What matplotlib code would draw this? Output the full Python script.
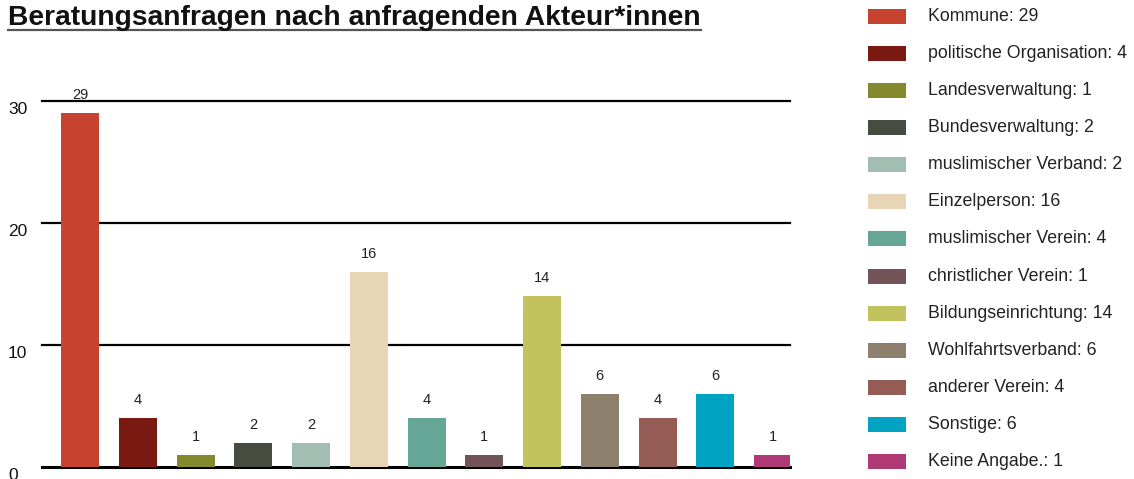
import matplotlib
matplotlib.use("Agg")
import matplotlib.pyplot as plt
from matplotlib.patches import Rectangle
from matplotlib.lines import Line2D

plt.rcParams['font.family'] = ['Liberation Sans', 'DejaVu Sans']

categories = ["Kommune", "politische Organisation", "Landesverwaltung",
              "Bundesverwaltung", "muslimischer Verband", "Einzelperson",
              "muslimischer Verein", "christlicher Verein", "Bildungseinrichtung",
              "Wohlfahrtsverband", "anderer Verein", "Sonstige", "Keine Angabe."]
values = [29, 4, 1, 2, 2, 16, 4, 1, 14, 6, 4, 6, 1]
colors = ["#C8432F", "#7A1911", "#85892E", "#464C40", "#A2BDB2", "#E8D5B5",
          "#65A697", "#715358", "#C2C25E", "#8D806C", "#955B55", "#00A3C2",
          "#B03A75"]
yticks = [0, 10, 20, 30]
title = "Beratungsanfragen nach anfragenden Akteur*innen"

W, H = 1134, 479
fig = plt.figure(figsize=(W / 100, H / 100), dpi=100)

# axes placed in pixel terms
x0, x1 = 42, 790
y0, y30 = 467, 101
ax = fig.add_axes([x0 / W, 1 - y0 / H, (x1 - x0) / W, (y0 - y30) / H])
ax.set_ylim(0, 30)
step = (773 - 80) / 12
ax.set_xlim(-(80 - x0) / step, 12 + (x1 - 773) / step)
for s in ax.spines.values():
    s.set_visible(False)
ax.set_xticks([])
ax.set_yticks([])

for t in yticks:
    ax.axhline(t, color="black", lw=2.2 if t == 0 else 1.6, zorder=1,
               clip_on=False)
    ax.annotate(str(t), xy=(0, t), xycoords=("figure pixels", "data"),
                xytext=(8, -1), textcoords="offset pixels",
                ha="left", va="top", fontsize=12.5, color="#111111",
                annotation_clip=False)

xs = list(range(len(values)))
bars = ax.bar(xs, values, width=38 / step, color=colors, zorder=2)
for x, v in zip(xs, values):
    ax.annotate(str(v), xy=(x, v), xytext=(0, 11), textcoords="offset pixels",
                ha="center", va="bottom", fontsize=10.5, color="#222222",
                annotation_clip=False)

# title with underline
tt = fig.text(8 / W, 1 - 25 / H, title, fontsize=20.3, fontweight="bold",
              ha="left", va="baseline", color="#111111")
fig.canvas.draw()
bb = tt.get_window_extent()
fig.add_artist(Line2D([bb.x0 / W, bb.x1 / W], [1 - 30 / H, 1 - 30 / H],
                      color="#555555", lw=1.6))

# legend
for i, (c, v, col) in enumerate(zip(categories, values, colors)):
    yc = 16.5 + i * 37.08
    fig.add_artist(Rectangle((868 / W, 1 - (yc + 7.5) / H), 38 / W, 15 / H,
                             facecolor=col, edgecolor="none"))
    fig.text(928 / W, 1 - yc / H, f"{c}: {v}", fontsize=12.8,
             ha="left", va="center", color="#222222")

fig.savefig("out.png", dpi=100)
